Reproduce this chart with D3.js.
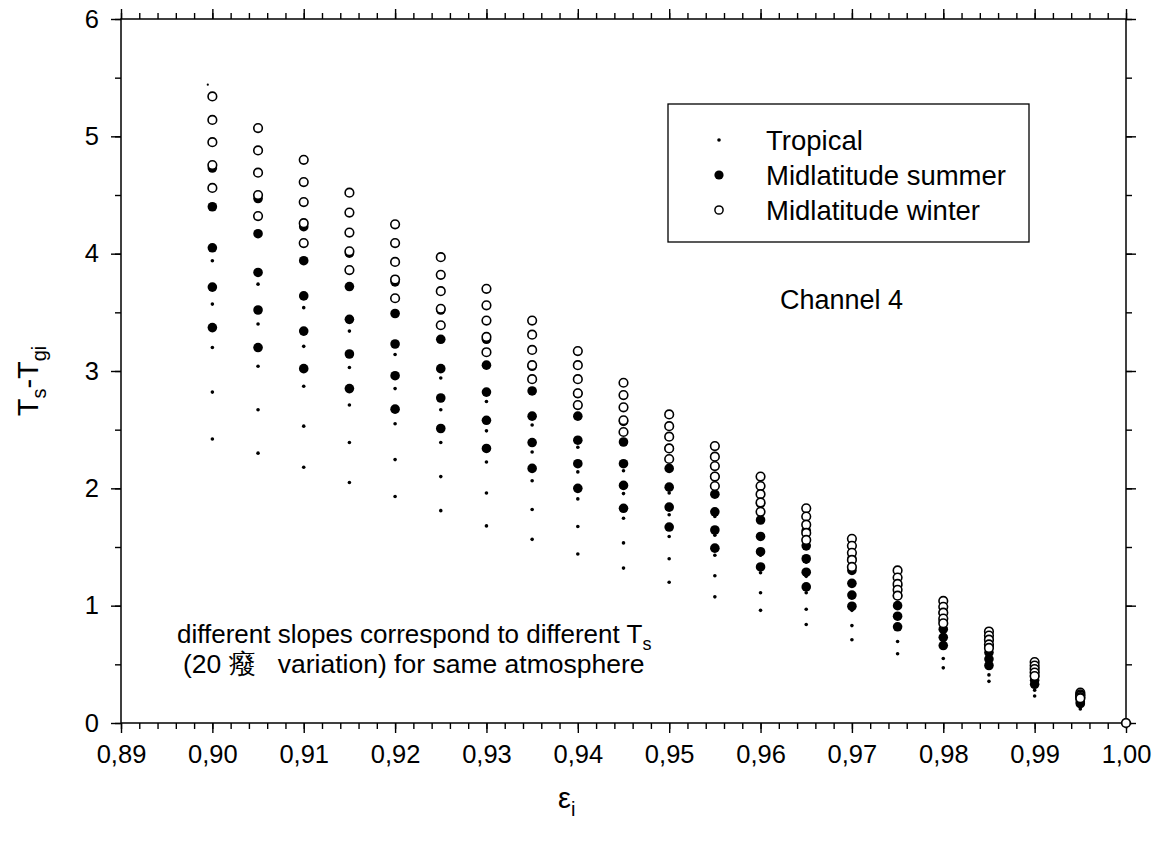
<!DOCTYPE html>
<html><head><meta charset="utf-8">
<script src="https://cdn.jsdelivr.net/npm/d3@7"></script>
<style>
body{margin:0;background:#fff}
text{font-family:"Liberation Sans",Arial,Helvetica,sans-serif;fill:#000}
</style>
</head><body>
<svg id="chart" width="1157" height="850"></svg>
<script>
// ---- data ----
const epsilon = [0.900,0.905,0.910,0.915,0.920,0.925,0.930,0.935,0.940,0.945,
                 0.950,0.955,0.960,0.965,0.970,0.975,0.980,0.985,0.990,0.995,1.000];

const tropical = [
  [3.94,3.57,3.20,2.82,2.42],[3.74,3.40,3.04,2.67,2.30],[3.54,3.21,2.87,2.53,2.18],
  [3.34,3.03,2.71,2.39,2.05],[3.14,2.85,2.55,2.245,1.93],[2.94,2.67,2.39,2.10,1.81],
  [2.74,2.49,2.225,1.96,1.68],[2.54,2.31,2.065,1.82,1.565],[2.35,2.14,1.91,1.675,1.44],
  [2.15,1.955,1.745,1.535,1.32],[1.96,1.775,1.59,1.40,1.20],[1.76,1.60,1.43,1.255,1.075],
  [1.57,1.43,1.28,1.11,0.96],[1.37,1.25,1.11,0.97,0.84],[1.18,1.07,0.96,0.83,0.71],
  [0.98,0.89,0.80,0.695,0.59],[0.79,0.71,0.64,0.55,0.47],[0.59,0.535,0.48,0.41,0.355],
  [0.39,0.355,0.32,0.28,0.23],[0.19,0.18,0.16,0.14,0.12],[0]
];

const midSummer = [
  [4.73,4.40,4.05,3.715,3.37],[4.47,4.17,3.84,3.52,3.20],[4.23,3.94,3.64,3.34,3.02],
  [4.005,3.72,3.44,3.145,2.85],[3.76,3.49,3.23,2.96,2.675],[3.52,3.27,3.02,2.77,2.51],
  [3.27,3.05,2.82,2.58,2.34],[3.04,2.83,2.615,2.39,2.17],[2.81,2.615,2.41,2.21,2.00],
  [2.57,2.395,2.21,2.025,1.83],[2.34,2.17,2.01,1.84,1.67],[2.10,1.95,1.80,1.645,1.49],
  [1.87,1.73,1.59,1.46,1.33],[1.64,1.51,1.40,1.285,1.16],[1.40,1.30,1.19,1.09,0.995],
  [1.17,1.085,1.00,0.91,0.82],[0.94,0.87,0.80,0.73,0.66],[0.71,0.655,0.60,0.545,0.49],
  [0.47,0.435,0.40,0.365,0.33],[0.235,0.215,0.20,0.18,0.165],[0]
];

const midWinter = [
  [5.34,5.14,4.95,4.755,4.56],[5.07,4.88,4.69,4.50,4.32],[4.80,4.61,4.44,4.26,4.09],
  [4.52,4.35,4.18,4.02,3.86],[4.25,4.09,3.93,3.78,3.62],[3.97,3.82,3.68,3.53,3.39],
  [3.70,3.56,3.43,3.29,3.16],[3.43,3.31,3.18,3.05,2.93],[3.17,3.05,2.93,2.81,2.71],
  [2.90,2.795,2.69,2.58,2.48],[2.63,2.53,2.44,2.34,2.25],[2.36,2.27,2.19,2.10,2.02],
  [2.10,2.02,1.95,1.88,1.80],[1.83,1.76,1.69,1.62,1.56],[1.57,1.51,1.45,1.39,1.33],
  [1.30,1.24,1.185,1.135,1.085],[1.04,0.99,0.94,0.89,0.85],[0.78,0.745,0.71,0.67,0.64],
  [0.52,0.49,0.46,0.43,0.40],[0.26,0.245,0.235,0.22,0.21],[0]
];

const strayPoint = [[0.8995, 5.44]];

const xTickValues = [0.89,0.90,0.91,0.92,0.93,0.94,0.95,0.96,0.97,0.98,0.99,1.00];
const yTickValues = [0,1,2,3,4,5,6];
const legendLabels = ["Tropical","Midlatitude summer","Midlatitude winter"];
const annotationLines = ["different slopes correspond to different T", "(20 \u7648   variation) for same atmosphere"];
const channelLabel = "Channel 4";

// ---- chart ----
const svg = d3.select("#chart");
const x = d3.scaleLinear().domain([0.89, 1.00]).range([121, 1126]);
const y = d3.scaleLinear().domain([0, 6]).range([723, 19]);
const fmtX = v => d3.format(".2f")(v).replace(".", ",");

const flat = s => epsilon.flatMap((e, i) => s[i].map(v => ({e, v})));

function styleAxis(g){
  g.select(".domain").remove();
  g.selectAll(".tick line").attr("stroke","#000").attr("stroke-width",1.4);
  g.selectAll(".tick text").style("font-size","25.5px").style("font-family",'"Liberation Sans",Arial,sans-serif').attr("fill","#000");
}
const xMinor = d3.range(0, 56).map(i => 0.89 + i*0.002);
const yMinor = d3.range(0, 13).map(i => i*0.5);

// minor ticks
svg.append("g").attr("transform","translate(0,723)")
  .call(d3.axisBottom(x).tickValues(xMinor).tickSize(6).tickFormat("")).call(styleAxis);
svg.append("g").attr("transform","translate(0,19)")
  .call(d3.axisTop(x).tickValues(xMinor).tickSize(6).tickFormat("")).call(styleAxis);
svg.append("g").attr("transform","translate(121,0)")
  .call(d3.axisLeft(y).tickValues(yMinor).tickSize(6).tickFormat("")).call(styleAxis);
svg.append("g").attr("transform","translate(1126,0)")
  .call(d3.axisRight(y).tickValues(yMinor).tickSize(6).tickFormat("")).call(styleAxis);
// major ticks
svg.append("g").attr("transform","translate(0,723)")
  .call(d3.axisBottom(x).tickValues(xTickValues).tickSize(10).tickPadding(12).tickFormat(fmtX)).call(styleAxis);
svg.append("g").attr("transform","translate(0,19)")
  .call(d3.axisTop(x).tickValues(xTickValues).tickSize(10).tickFormat("")).call(styleAxis);
svg.append("g").attr("transform","translate(121,0)")
  .call(d3.axisLeft(y).tickValues(yTickValues).tickSize(10).tickPadding(12).tickFormat(d3.format("d"))).call(styleAxis);
svg.append("g").attr("transform","translate(1126,0)")
  .call(d3.axisRight(y).tickValues(yTickValues).tickSize(10).tickFormat("")).call(styleAxis);

// frame
svg.append("rect").attr("x",121).attr("y",19).attr("width",1005).attr("height",704)
  .attr("fill","none").attr("stroke","#000").attr("stroke-width",1.5);

// points
const plot = svg.append("g");
plot.selectAll(".trop").data(flat(tropical)).join("circle").attr("class","trop")
  .attr("cx", d => x(d.e)).attr("cy", d => y(d.v)).attr("r", 1.8).attr("fill","#000");
plot.selectAll(".ms").data(flat(midSummer)).join("circle").attr("class","ms")
  .attr("cx", d => x(d.e)).attr("cy", d => y(d.v)).attr("r", 4.8).attr("fill","#000");
plot.selectAll(".mw").data(flat(midWinter)).join("circle").attr("class","mw")
  .attr("cx", d => x(d.e)).attr("cy", d => y(d.v)).attr("r", 4.3)
  .attr("fill","#fff").attr("stroke","#000").attr("stroke-width",1.6);
plot.selectAll(".stray").data(strayPoint).join("circle").attr("class","stray")
  .attr("cx", d => x(d[0])).attr("cy", d => y(d[1])).attr("r", 1.1).attr("fill","#000");

// legend
const lg = svg.append("g");
lg.append("rect").attr("x",668).attr("y",104).attr("width",361).attr("height",138)
  .attr("fill","#fff").attr("stroke","#000").attr("stroke-width",1.3);
const legendY = [140, 175, 210];
lg.append("circle").attr("cx",719).attr("cy",legendY[0]).attr("r",1.8).attr("fill","#000");
lg.append("circle").attr("cx",719).attr("cy",legendY[1]).attr("r",4.6).attr("fill","#000");
lg.append("circle").attr("cx",719).attr("cy",legendY[2]).attr("r",4.1).attr("fill","#fff").attr("stroke","#000").attr("stroke-width",1.5);
legendLabels.forEach((t,i)=>{
  lg.append("text").attr("x",766).attr("y",legendY[i]+10).style("font-size","27.5px").text(t);
});

// annotations
svg.append("text").attr("x",780).attr("y",309).style("font-size","27px").text(channelLabel);
const a1 = svg.append("text").attr("x",177).attr("y",643).style("font-size","26px");
a1.append("tspan").text(annotationLines[0]);
a1.append("tspan").attr("dy",7).style("font-size","18px").text("s");
svg.append("text").attr("x",183).attr("y",673).style("font-size","26.5px").attr("xml:space","preserve")
  .style("white-space","pre").text(annotationLines[1]);

// axis titles
const yt = svg.append("text").attr("transform","translate(38,381) rotate(-90)")
  .attr("text-anchor","middle").style("font-size","29px");
yt.append("tspan").text("T");
yt.append("tspan").attr("dy",8).style("font-size","20px").text("s");
yt.append("tspan").attr("dy",-8).text("-T");
yt.append("tspan").attr("dy",8).style("font-size","20px").text("gi");

const xt = svg.append("text").attr("x",558).attr("y",808).style("font-size","29px");
xt.append("tspan").text("\u03b5");
xt.append("tspan").attr("dy",8).style("font-size","20px").text("i");
</script>
</body></html>
